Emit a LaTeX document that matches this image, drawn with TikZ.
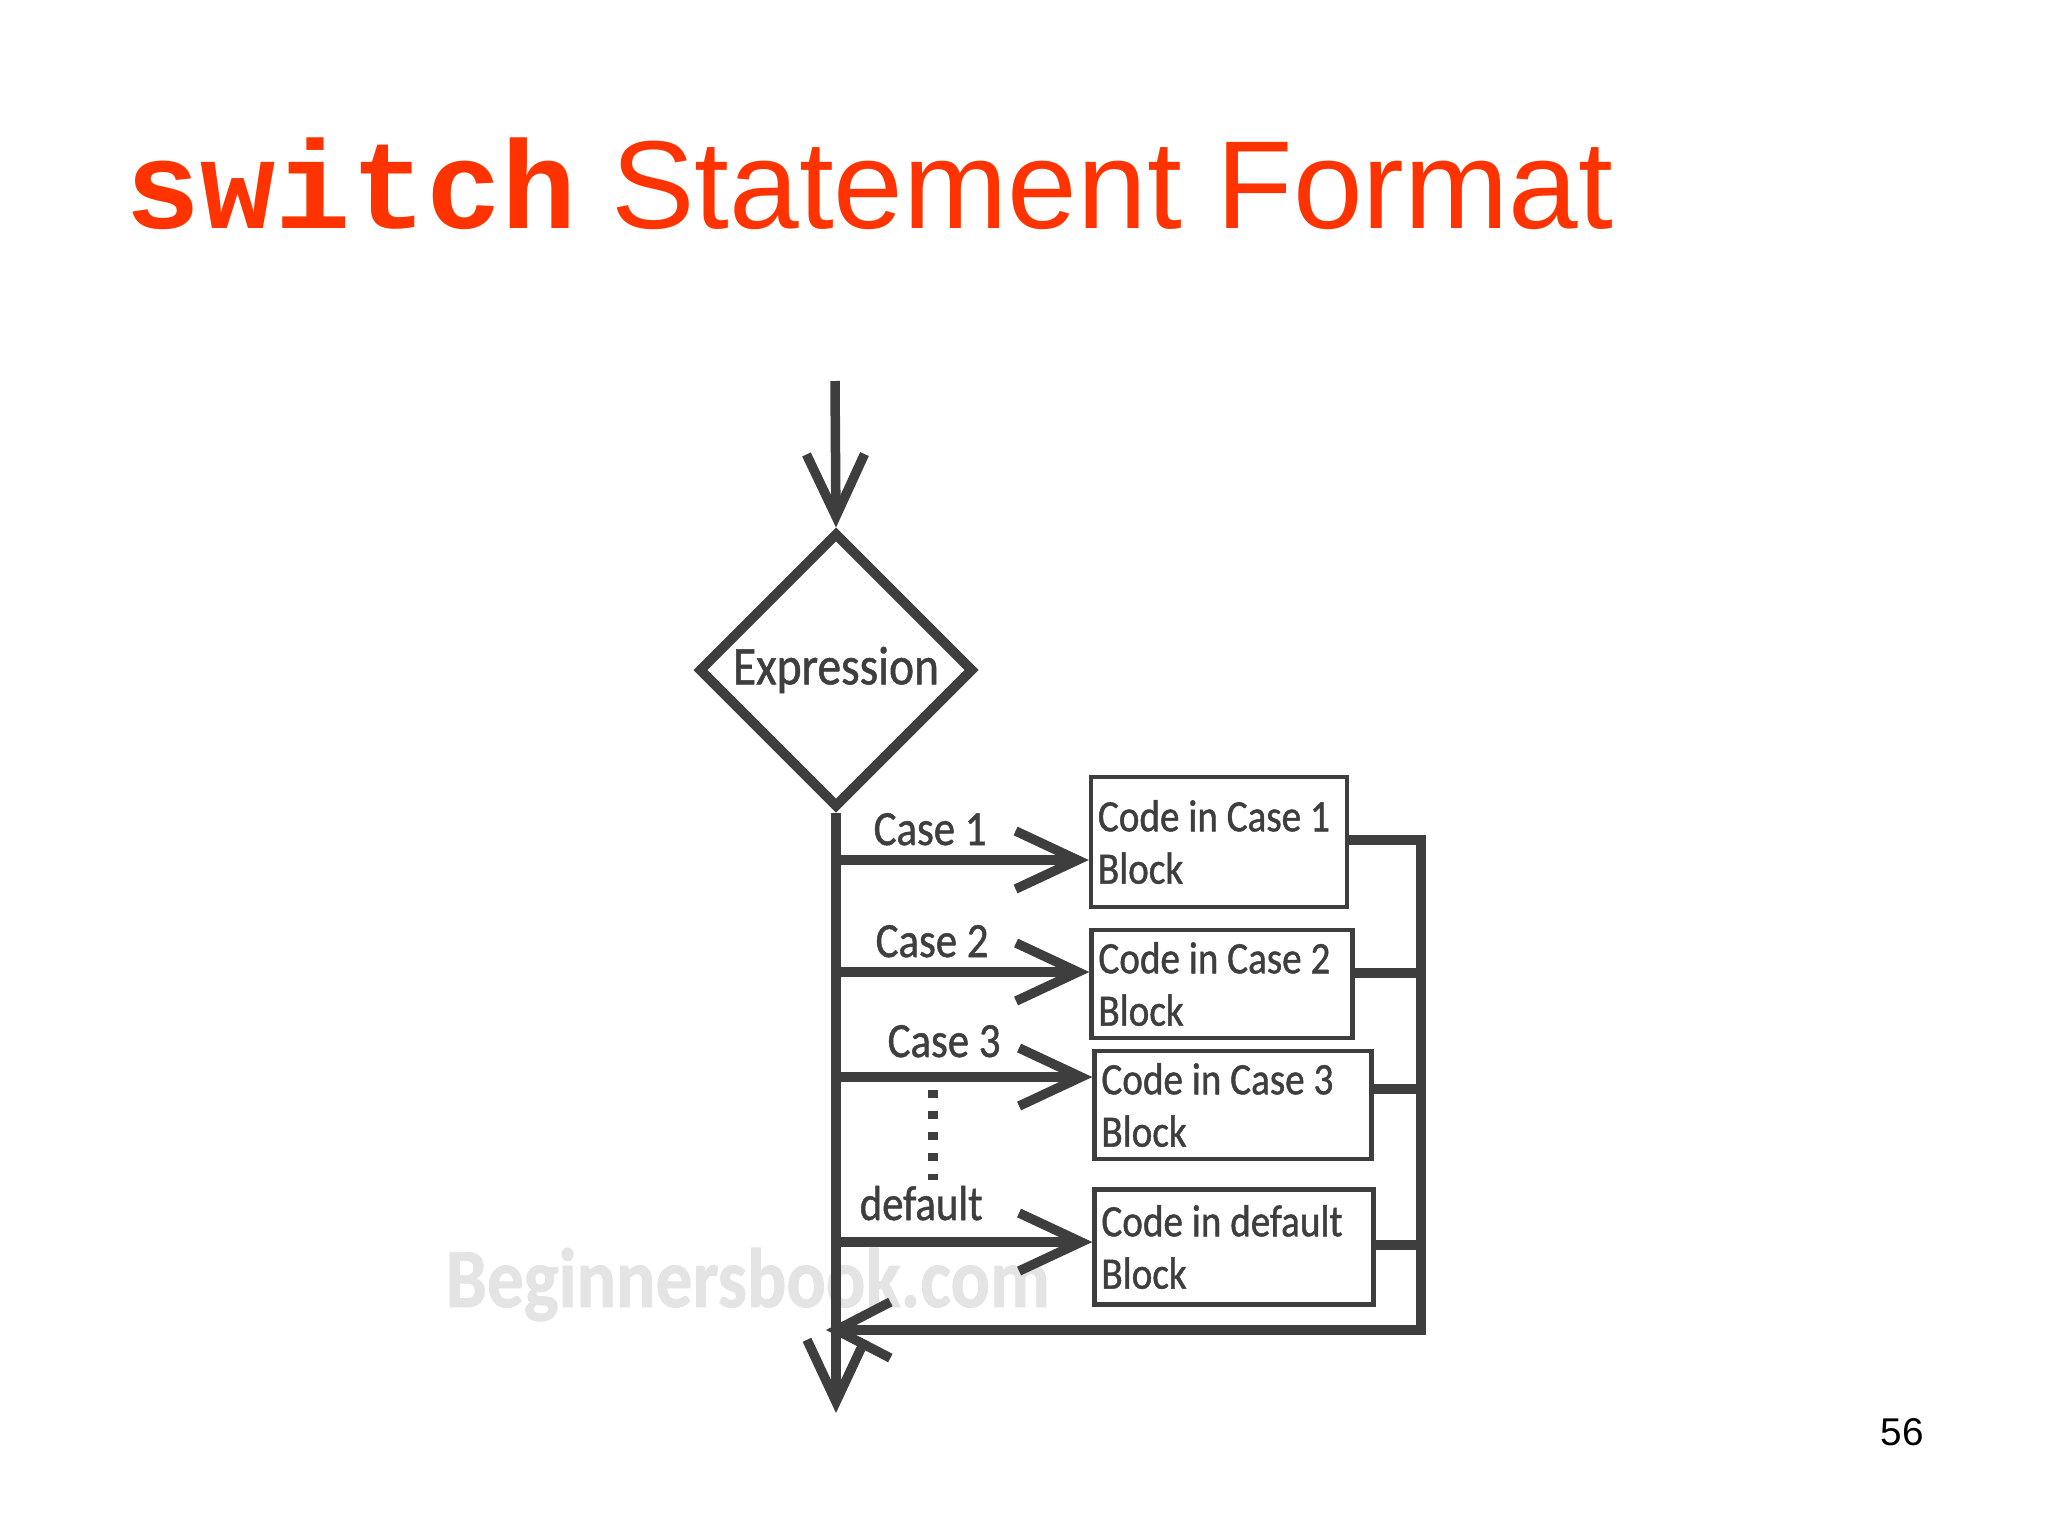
\documentclass[tikz,border=0pt]{standalone}
\usepackage{fontspec}
\usepackage{tikz}
\usetikzlibrary{shapes.geometric,arrows.meta,positioning}
\newfontfamily\slidefont{Liberation Sans}
\newfontfamily\codefont{Liberation Mono}
\newfontfamily\flowfont[FakeStretch=0.87,FakeBold=1]{Carlito}
\definecolor{slidered}{RGB}{255,51,0}
\definecolor{ink}{RGB}{62,62,62}
\definecolor{wmgray}{RGB}{228,228,228}
\newcommand{\plainspace}{\setlength{\spaceskip}{0pt}\setlength{\xspaceskip}{0pt}}

\begin{document}
\begin{tikzpicture}[x=0.01cm,y=-0.01cm]
  % switch flowchart, laid out on the 2048x1536 slide grid
  \tikzset{flow/.style={ink,line width=2.7pt},
    barb/.style={-{Straight Barb[length=0.62cm,width=0.58cm]}},
    decision/.style={diamond,draw=ink,line width=2.8pt,minimum width=2.75cm,minimum height=2.75cm,inner sep=0pt,text=ink,font=\flowfont\fontsize{15.5pt}{17pt}\selectfont},
    blk/.style={draw=ink,line width=1.2pt,align=left,inner xsep=0.07cm,text=ink,font=\flowfont\fontsize{12.8pt}{14.9pt}\selectfont,execute at begin node={\plainspace}},
    lbl/.style={anchor=base west,inner sep=0pt,text=ink,font=\flowfont\fontsize{14pt}{15pt}\selectfont}}
  \useasboundingbox (0,0) rectangle (2048,1536);

  \node[anchor=base west,inner sep=0pt,text=wmgray,font=\flowfont\bfseries\fontsize{24pt}{26pt}\selectfont] (mark) at (445,1307) {Beginnersbook.com};
  \node[anchor=base west,inner sep=0pt,text=slidered,font=\slidefont\fontsize{35.6pt}{40pt}\selectfont] (title) at (125,228) {{\codefont\bfseries switch} Statement Format};
  \node[anchor=base west,inner sep=0pt,font=\slidefont\fontsize{11pt}{13pt}\selectfont] (pageno) at (1880,1445) {56};

  \coordinate (entry) at (835,381);
  \node[decision] (expr) at (836,670) {Expression};
  \coordinate (exit) at (836,1413);
  \coordinate (t1) at (836,860);
  \coordinate (t2) at (836,972);
  \coordinate (t3) at (836,1077);
  \coordinate (t4) at (836,1242);

  \node[blk,minimum width=2.56cm,minimum height=1.30cm,text width=2.42cm] (c1) at (1219,842) {Code in Case 1\\Block};
  \node[blk,minimum width=2.61cm,minimum height=1.06cm,text width=2.47cm] (c2) at (1222,984) {Code in Case 2\\Block};
  \node[blk,minimum width=2.77cm,minimum height=1.04cm,text width=2.63cm] (c3) at (1233,1105) {Code in Case 3\\Block};
  \node[blk,minimum width=2.79cm,minimum height=1.15cm,text width=2.65cm] (c4) at (1234,1247) {Code in default\\Block};

  \node[lbl] (l1) at (873,845) {Case 1};
  \node[lbl] (l2) at (875,957) {Case 2};
  \node[lbl] (l3) at (887,1057) {Case 3};
  \node[lbl] (l4) at (859,1220) {default};

  \coordinate (b1) at (1421,840);
  \coordinate (b2) at (1421,973);
  \coordinate (b3) at (1421,1089);
  \coordinate (b4) at (1421,1245);
  \coordinate (ret) at (1421,1330);
  \coordinate (merge) at (826,1330);
  \coordinate (d1) at (933,1090);
  \coordinate (d2) at (933,1180);

  \draw[flow,barb] (entry) -- (expr.north);
  \draw[flow,barb] (expr.south) -- (exit);
  \foreach \i in {1,...,4} \draw[flow,barb] (t\i) -- (t\i -| c\i.west);
  \draw[flow,-{Straight Barb[length=0.54cm,width=0.56cm]}] (c1.east |- b1) -- (b1) -- (ret) -- (merge);
  \foreach \i in {2,3,4} \draw[flow] (c\i.east |- b\i) -- (b\i);
  \draw[ink,line width=2.8pt,dash pattern=on 0.08cm off 0.13cm] (d1) -- (d2);
\end{tikzpicture}
\end{document}
